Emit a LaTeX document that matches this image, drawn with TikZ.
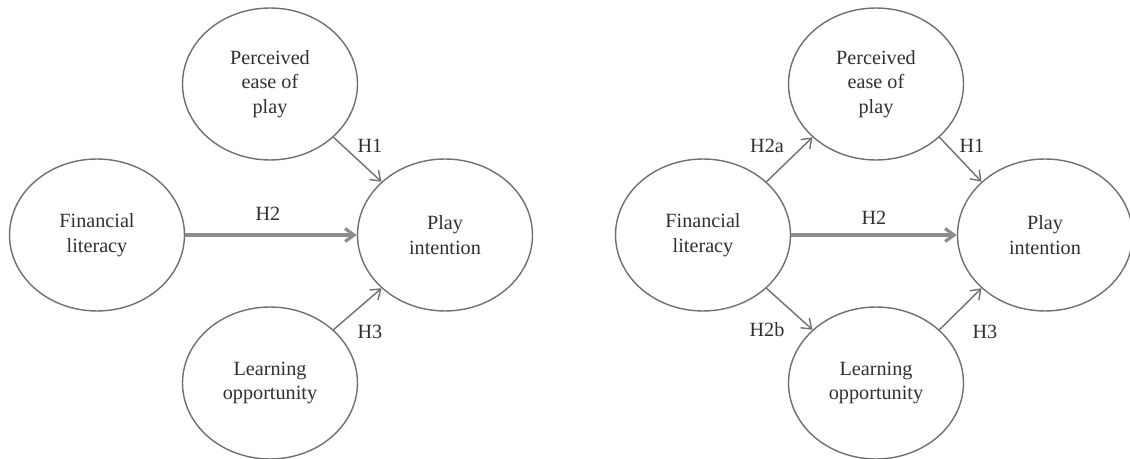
\documentclass[tikz,border=0pt]{standalone}
\usepackage{fontspec}
\setmainfont{Liberation Serif}
\usetikzlibrary{shapes.geometric,arrows.meta}
\definecolor{lineg}{HTML}{707070}
\definecolor{textg}{HTML}{303030}
\tikzset{
  construct/.style={ellipse, draw=lineg, line width=0.8pt, minimum width=3.5cm,
    minimum height=3.04cm, inner sep=0pt, align=center, text=textg,
    font=\fontsize{11.5}{14}\selectfont},
  path/.style={draw=lineg, line width=0.8pt, -{Straight Barb[length=1.8mm,width=2.6mm]}},
  mainpath/.style={draw=lineg!80, line width=1.8pt, -{Straight Barb[length=1.8mm,width=2.6mm]}},
  hyp/.style={text=textg, font=\fontsize{11.5}{14}\selectfont, inner sep=1pt}
}
\begin{document}
\begin{tikzpicture}[x=0.02cm, y=-0.02cm]
\useasboundingbox (0,0) rectangle (1130,459);
% Model 1: direct effects
\node[construct] (peop) at (270,84) {Perceived\\ease of\\play};
\node[construct] (fl) at (97,235) {Financial\\literacy};
\node[construct] (pi) at (445,235) {Play\\intention};
\node[construct] (lo) at (270,383) {Learning\\opportunity};
\draw[path] (peop.-40) -- (pi.140);
\draw[mainpath] (fl) -- (pi);
\draw[path] (lo.40) -- (pi.-140);
\node[hyp] (h1) at (370,146) {H1};
\node[hyp] (h2) at (268,214) {H2};
\node[hyp] (h3) at (370,332) {H3};
% Model 2: mediated effects
\node[construct] (peopb) at (876,84) {Perceived\\ease of\\play};
\node[construct] (flb) at (703,235) {Financial\\literacy};
\node[construct] (pib) at (1045,235) {Play\\intention};
\node[construct] (lob) at (876,383) {Learning\\opportunity};
\draw[path] (flb.40) -- (peopb.-140);
\draw[path] (peopb.-40) -- (pib.140);
\draw[mainpath] (flb) -- (pib);
\draw[path] (flb.-40) -- (lob.140);
\draw[path] (lob.40) -- (pib.-140);
\node[hyp] (h2a) at (767,146) {H2a};
\node[hyp] (h1b) at (972,146) {H1};
\node[hyp] (h2b) at (874,218) {H2};
\node[hyp] (h2bb) at (767,330) {H2b};
\node[hyp] (h3b) at (985,332) {H3};
\end{tikzpicture}
\end{document}
